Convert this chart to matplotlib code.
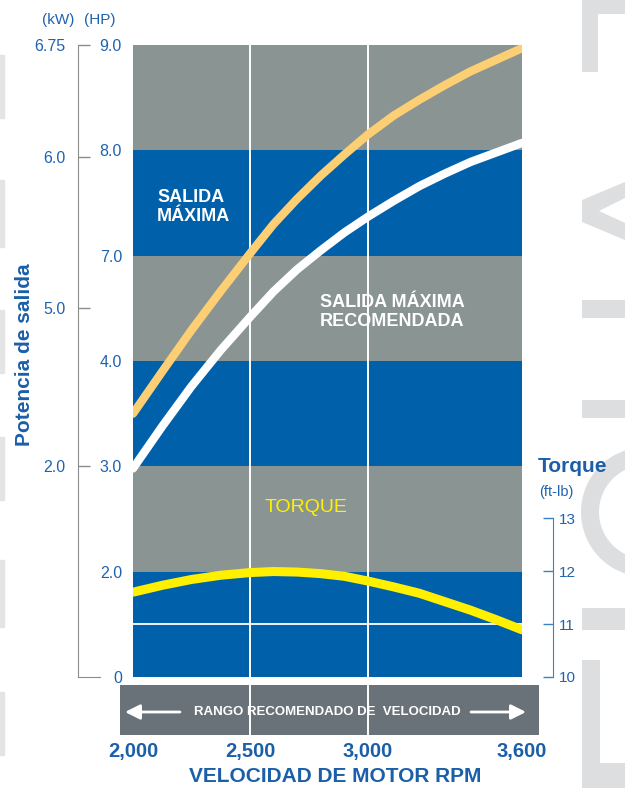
import numpy as np
import matplotlib
matplotlib.use("Agg")
import matplotlib.pyplot as plt
from matplotlib.patches import Rectangle, Polygon, Wedge
from matplotlib.transforms import Affine2D
from matplotlib.ticker import NullLocator

plt.rcParams["font.family"] = ["Liberation Sans", "DejaVu Sans"]

# Datos
rpm = [2000, 2125, 2250, 2375, 2500, 2600, 2700, 2800, 2900, 3000,
       3100, 3200, 3300, 3400, 3500, 3600]
salida_maxima_hp = [3.50, 3.90, 4.88, 5.99, 7.02, 7.30, 7.54, 7.76, 7.96, 8.15,
                    8.33, 8.48, 8.62, 8.75, 8.86, 8.97]
salida_recomendada_hp = [2.98, 3.38, 3.76, 4.31, 5.25, 5.98, 6.61, 7.05, 7.22, 7.37,
                         7.52, 7.66, 7.78, 7.89, 7.98, 8.07]
torque_ftlb = [11.60, 11.73, 11.84, 11.92, 11.97, 11.99, 11.98, 11.95, 11.90, 11.81,
               11.70, 11.58, 11.42, 11.26, 11.08, 10.89]

rpm_ticks = [2000, 2500, 3000, 3600]
rpm_labels = ["2,000", "2,500", "3,000", "3,600"]
hp_ticks = [0, 2, 3, 4, 7, 8, 9]
hp_labels = ["0", "2.0", "3.0", "4.0", "7.0", "8.0", "9.0"]
kw_ticks = [2.0, 5.0, 6.0, 6.75]
kw_labels = ["2.0", "5.0", "6.0", "6.75"]
torque_ticks = [10, 11, 12, 13]
torque_labels = ["10", "11", "12", "13"]

# Escalas no lineales del grafico original
RPM_PUNTOS = [2000, 2500, 3000, 3600]
RPM_POS = [0, 117, 235, 389]
HP_POS = [0, 1, 2, 3, 4, 5, 6]
KW_PUNTOS = [0, 2.0, 5.0, 6.0, 6.75]
KW_POS = [0, 2.0, 3.5, 4.94, 6.0]

AZUL_BANDA = "#0061AA"
GRIS_BANDA = "#8A9493"
AZUL_TEXTO = "#1F63AE"
AZUL_TITULO = "#1B5FA9"
GRIS_MARCA = "#DDDEDF"

W, H = 625, 788


def fx(x):
    return x / W


def fy(y):
    return 1 - y / H


def escala(puntos, pos):
    return (lambda v: np.interp(v, puntos, pos), lambda p: np.interp(p, pos, puntos))


fig = plt.figure(figsize=(W / 100, H / 100), dpi=100)

# marca de agua gris a los lados
px = Affine2D().scale(1 / W, -1 / H).translate(0, 1) + fig.transFigure
for y0, y1 in [(55, 118), (180, 247), (310, 373), (437, 500), (560, 627), (692, 755)]:
    fig.patches.append(Rectangle((0, y0), 4, y1 - y0, transform=px, color="#E4E4E4", zorder=-5))
formas = [
    Rectangle((582, 0), 16, 72),
    Rectangle((582, 0), 43, 14),
    Polygon([(625, 182), (582, 200), (582, 222), (625, 240), (625, 223), (599, 211), (625, 198)]),
    Rectangle((582, 300), 43, 18),
    Rectangle((582, 400), 43, 18),
    Wedge((646, 512), 65, 90, 270, width=18),
    Rectangle((582, 608), 43, 22),
    Rectangle((582, 660), 18, 128),
    Rectangle((582, 763), 43, 25),
]
for f in formas:
    f.set_transform(px)
    f.set_color(GRIS_MARCA)
    f.set_linewidth(0)
    f.set_zorder(-5)
    fig.patches.append(f)

# eje principal (HP)
ax = fig.add_axes([133 / W, (H - 677) / H, 389 / W, 632 / H])
ax.set_xscale("function", functions=escala(RPM_PUNTOS, RPM_POS))
ax.set_yscale("function", functions=escala(hp_ticks, HP_POS))
ax.set_xlim(2000, 3600)
ax.set_ylim(0, 9)

colores = [AZUL_BANDA, GRIS_BANDA, AZUL_BANDA, GRIS_BANDA, AZUL_BANDA, GRIS_BANDA]
for lo, hi, c in zip(hp_ticks[:-1], hp_ticks[1:], colores):
    ax.axhspan(lo, hi, color=c, lw=0, zorder=0)

# franja de rango recomendado
ax.add_patch(Rectangle((-0.0334, -0.0918), 1.0774, 0.0791, transform=ax.transAxes,
                       color="#6A7279", lw=0, clip_on=False, zorder=1))
for r in [2500, 3000]:
    ax.axvline(r, ymin=-0.0918, ymax=1, color="white", lw=1.4, clip_on=False, zorder=2)

ax.plot(rpm, salida_maxima_hp, color="#FDCF74", lw=6, solid_capstyle="round",
        solid_joinstyle="round", zorder=4)
ax.plot(rpm, salida_recomendada_hp, color="white", lw=6, solid_capstyle="round",
        solid_joinstyle="round", zorder=4)

for s in ax.spines.values():
    s.set_visible(False)
ax.set_yticks(hp_ticks, hp_labels)
ax.yaxis.set_minor_locator(NullLocator())
ax.xaxis.set_minor_locator(NullLocator())
ax.tick_params(axis="y", length=0, pad=8, labelsize=11.5, labelcolor=AZUL_TEXTO)
ax.set_xticks(rpm_ticks, rpm_labels)
ax.tick_params(axis="x", length=0, pad=47, labelsize=14.5, labelcolor=AZUL_TITULO)
for t in ax.get_xticklabels():
    t.set_fontweight("bold")

# flechas y texto de la franja
for x0, x1 in [(180, 125), (471, 526)]:
    ax.annotate("", xy=(fx(x1), fy(712)), xytext=(fx(x0), fy(712)), xycoords="figure fraction",
                textcoords="figure fraction", annotation_clip=False,
                arrowprops=dict(arrowstyle="-|>,head_length=0.9,head_width=0.45", color="white",
                                lw=2, shrinkA=0, shrinkB=0))
fig.text(fx(327), fy(712), "RANGO RECOMENDADO DE  VELOCIDAD", color="white", fontsize=9.5,
         fontweight="bold", ha="center", va="center")

# eje de torque
ax_t = ax.twinx()
ax_t.set_ylim(10, 10 + 632 / 53)
ax_t.axhline(11, color="white", lw=1.3, zorder=1)
ax_t.plot(rpm, torque_ftlb, color="#FFF000", lw=6.5, solid_capstyle="round",
          solid_joinstyle="round", zorder=3)
for nombre, s in ax_t.spines.items():
    s.set_visible(nombre == "right")
ax_t.spines["right"].set_position(("outward", 22.3))
ax_t.spines["right"].set_bounds(10, 13)
ax_t.spines["right"].set_color("#3D80C4")
ax_t.set_yticks(torque_ticks, torque_labels)
ax_t.tick_params(axis="y", direction="in", length=7.2, width=1, color="#3D80C4", pad=4,
                 labelsize=11, labelcolor=AZUL_TEXTO)

# eje kW
ax_kw = fig.add_axes([78 / W, (H - 677) / H, 22 / W, 632 / H])
ax_kw.set_yscale("function", functions=escala(KW_PUNTOS, KW_POS))
ax_kw.set_ylim(0, 6.75)
ax_kw.patch.set_visible(False)
ax_kw.spines["top"].set_visible(False)
ax_kw.spines["right"].set_visible(False)
ax_kw.spines["left"].set_color("#8C8C8C")
ax_kw.spines["bottom"].set_color("#8C8C8C")
ax_kw.set_xticks([])
ax_kw.set_yticks(kw_ticks, kw_labels)
ax_kw.yaxis.set_minor_locator(NullLocator())
ax_kw.tick_params(axis="y", direction="in", length=8.6, width=1, color="#8C8C8C", pad=9,
                  labelsize=11.5, labelcolor=AZUL_TEXTO)

# textos
fig.text(fx(58), fy(20), "(kW)", color=AZUL_TEXTO, fontsize=11, ha="center", va="center")
fig.text(fx(100), fy(20), "(HP)", color=AZUL_TEXTO, fontsize=11, ha="center", va="center")
fig.text(fx(25), fy(355), "Potencia de salida", color=AZUL_TITULO, fontsize=15,
         fontweight="bold", rotation=90, ha="center", va="center")
fig.text(fx(538), fy(466), "Torque", color=AZUL_TITULO, fontsize=15, fontweight="bold",
         ha="left", va="center")
fig.text(fx(539), fy(492), "(ft-lb)", color=AZUL_TEXTO, fontsize=10.5, ha="left", va="center")
fig.text(fx(335), fy(776), "VELOCIDAD DE MOTOR RPM", color=AZUL_TITULO, fontsize=15,
         fontweight="bold", ha="center", va="center")
fig.text(fx(157), fy(207), "SALIDA\nMÁXIMA", color="white", fontsize=13, fontweight="bold",
         ha="left", va="center", linespacing=1.1)
fig.text(fx(320), fy(312), "SALIDA MÁXIMA\nRECOMENDADA", color="white", fontsize=13,
         fontweight="bold", ha="left", va="center", linespacing=1.1)
fig.text(fx(265), fy(508), "TORQUE", color="#FFF200", fontsize=14, ha="left", va="center")

fig.savefig("out.png", dpi=100)
